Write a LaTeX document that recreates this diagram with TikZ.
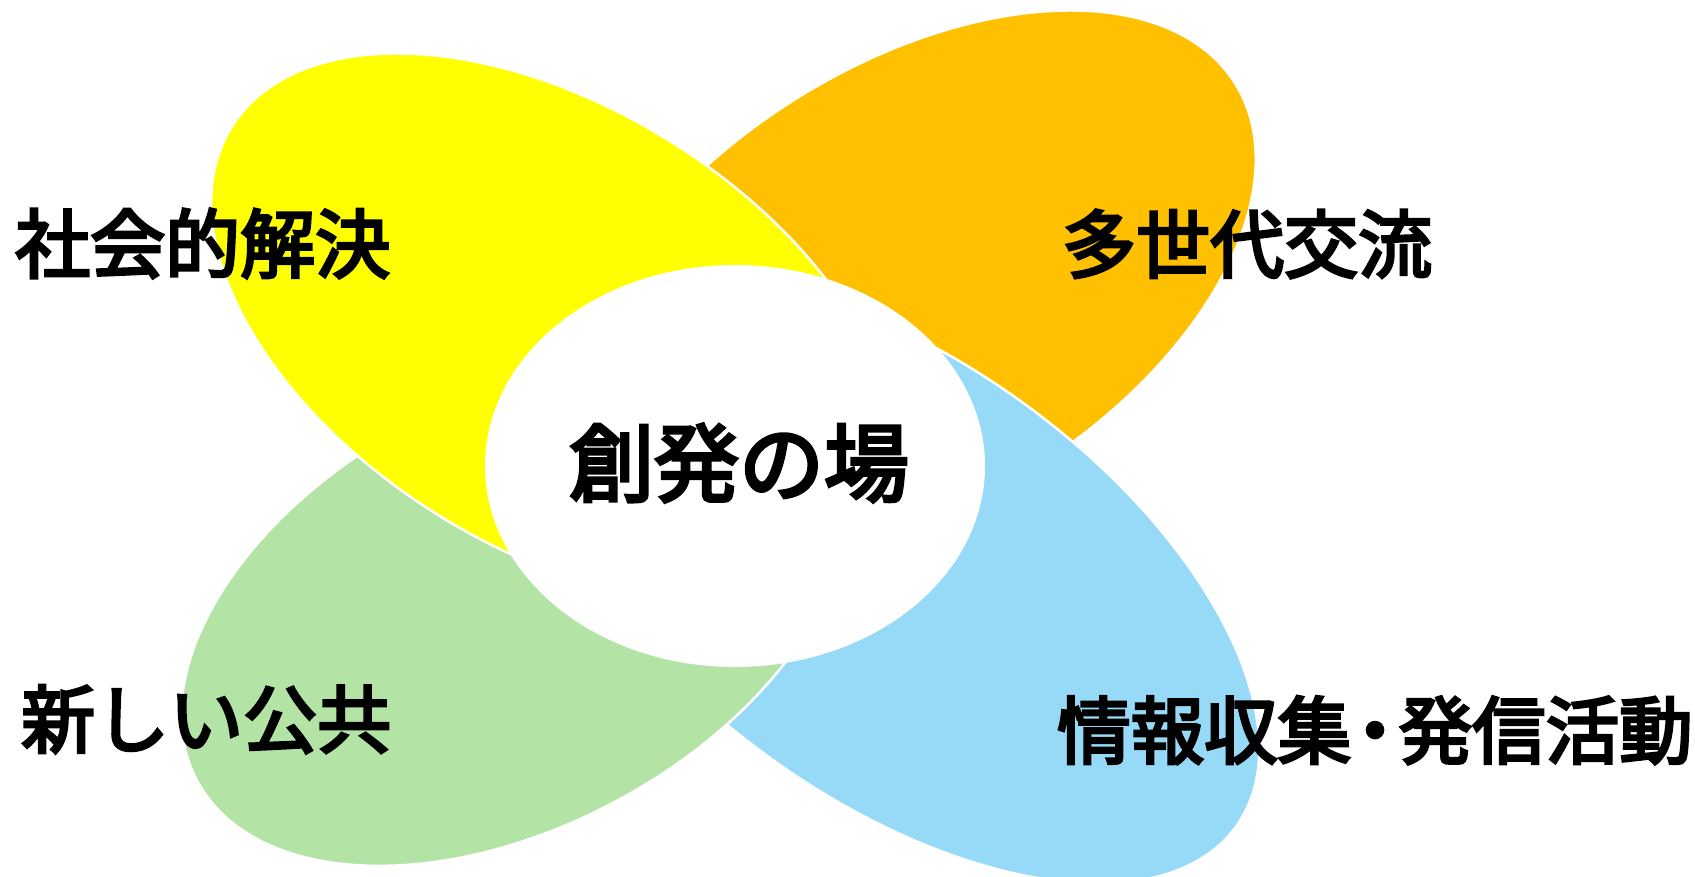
\documentclass[tikz,border=0pt]{standalone}
\usepackage{fontspec}
\newfontfamily\jp{Noto Sans CJK JP}[FakeBold=4]
\definecolor{cYellow}{HTML}{FFFF00}
\definecolor{cOrange}{HTML}{FFC000}
\definecolor{cGreen}{HTML}{B4E4A5}
\definecolor{cBlue}{HTML}{97DAF7}
\begin{document}
\begin{tikzpicture}[x=1pt,y=-1pt,
  lobe/.style={draw=white, line width=2.5pt},
  lbl/.style={font=\jp\fontsize{74pt}{80pt}\selectfont, inner sep=0pt, anchor=base west},
  ctr/.style={font=\jp\fontsize{85pt}{90pt}\selectfont, inner sep=0pt, anchor=base}
]
\useasboundingbox (0,0) rectangle (1695,877);
\clip (0,0) rectangle (1695,877);
\fill[white] (0,0) rectangle (1695,877);
% lobes, bottom to top
\draw[lobe, fill=cOrange, rotate around={32:(913,285)}] (913,285) ellipse [x radius=380pt, y radius=220pt];
\draw[lobe, fill=cBlue, rotate around={-36:(896,580)}] (896,580) ellipse [x radius=420pt, y radius=218pt];
\draw[lobe, fill=cGreen, rotate around={28:(514,612)}] (514,612) ellipse [x radius=359pt, y radius=215pt];
\draw[lobe, fill=cYellow, rotate around={-32:(554,328)}] (554,328) ellipse [x radius=380pt, y radius=220pt];
% centre
\fill[white] (735,466) ellipse [x radius=250pt, y radius=201pt];
% labels
\node[ctr] (t0) at (739,495) {創発の場};
\node[lbl, font=\jp\fontsize{75pt}{80pt}\selectfont] (t1) at (15,272) {社会的解決};
\node[lbl] (t2) at (1062,272) {多世代交流};
\node[lbl] (t3) at (21,747) {新しい公共};
\node[lbl, font=\jp\fontsize{73.5pt}{78pt}\selectfont] (t4) at (1057,758) {情報収集\kern-13pt・\kern-13pt発信活動};
\end{tikzpicture}
\end{document}
